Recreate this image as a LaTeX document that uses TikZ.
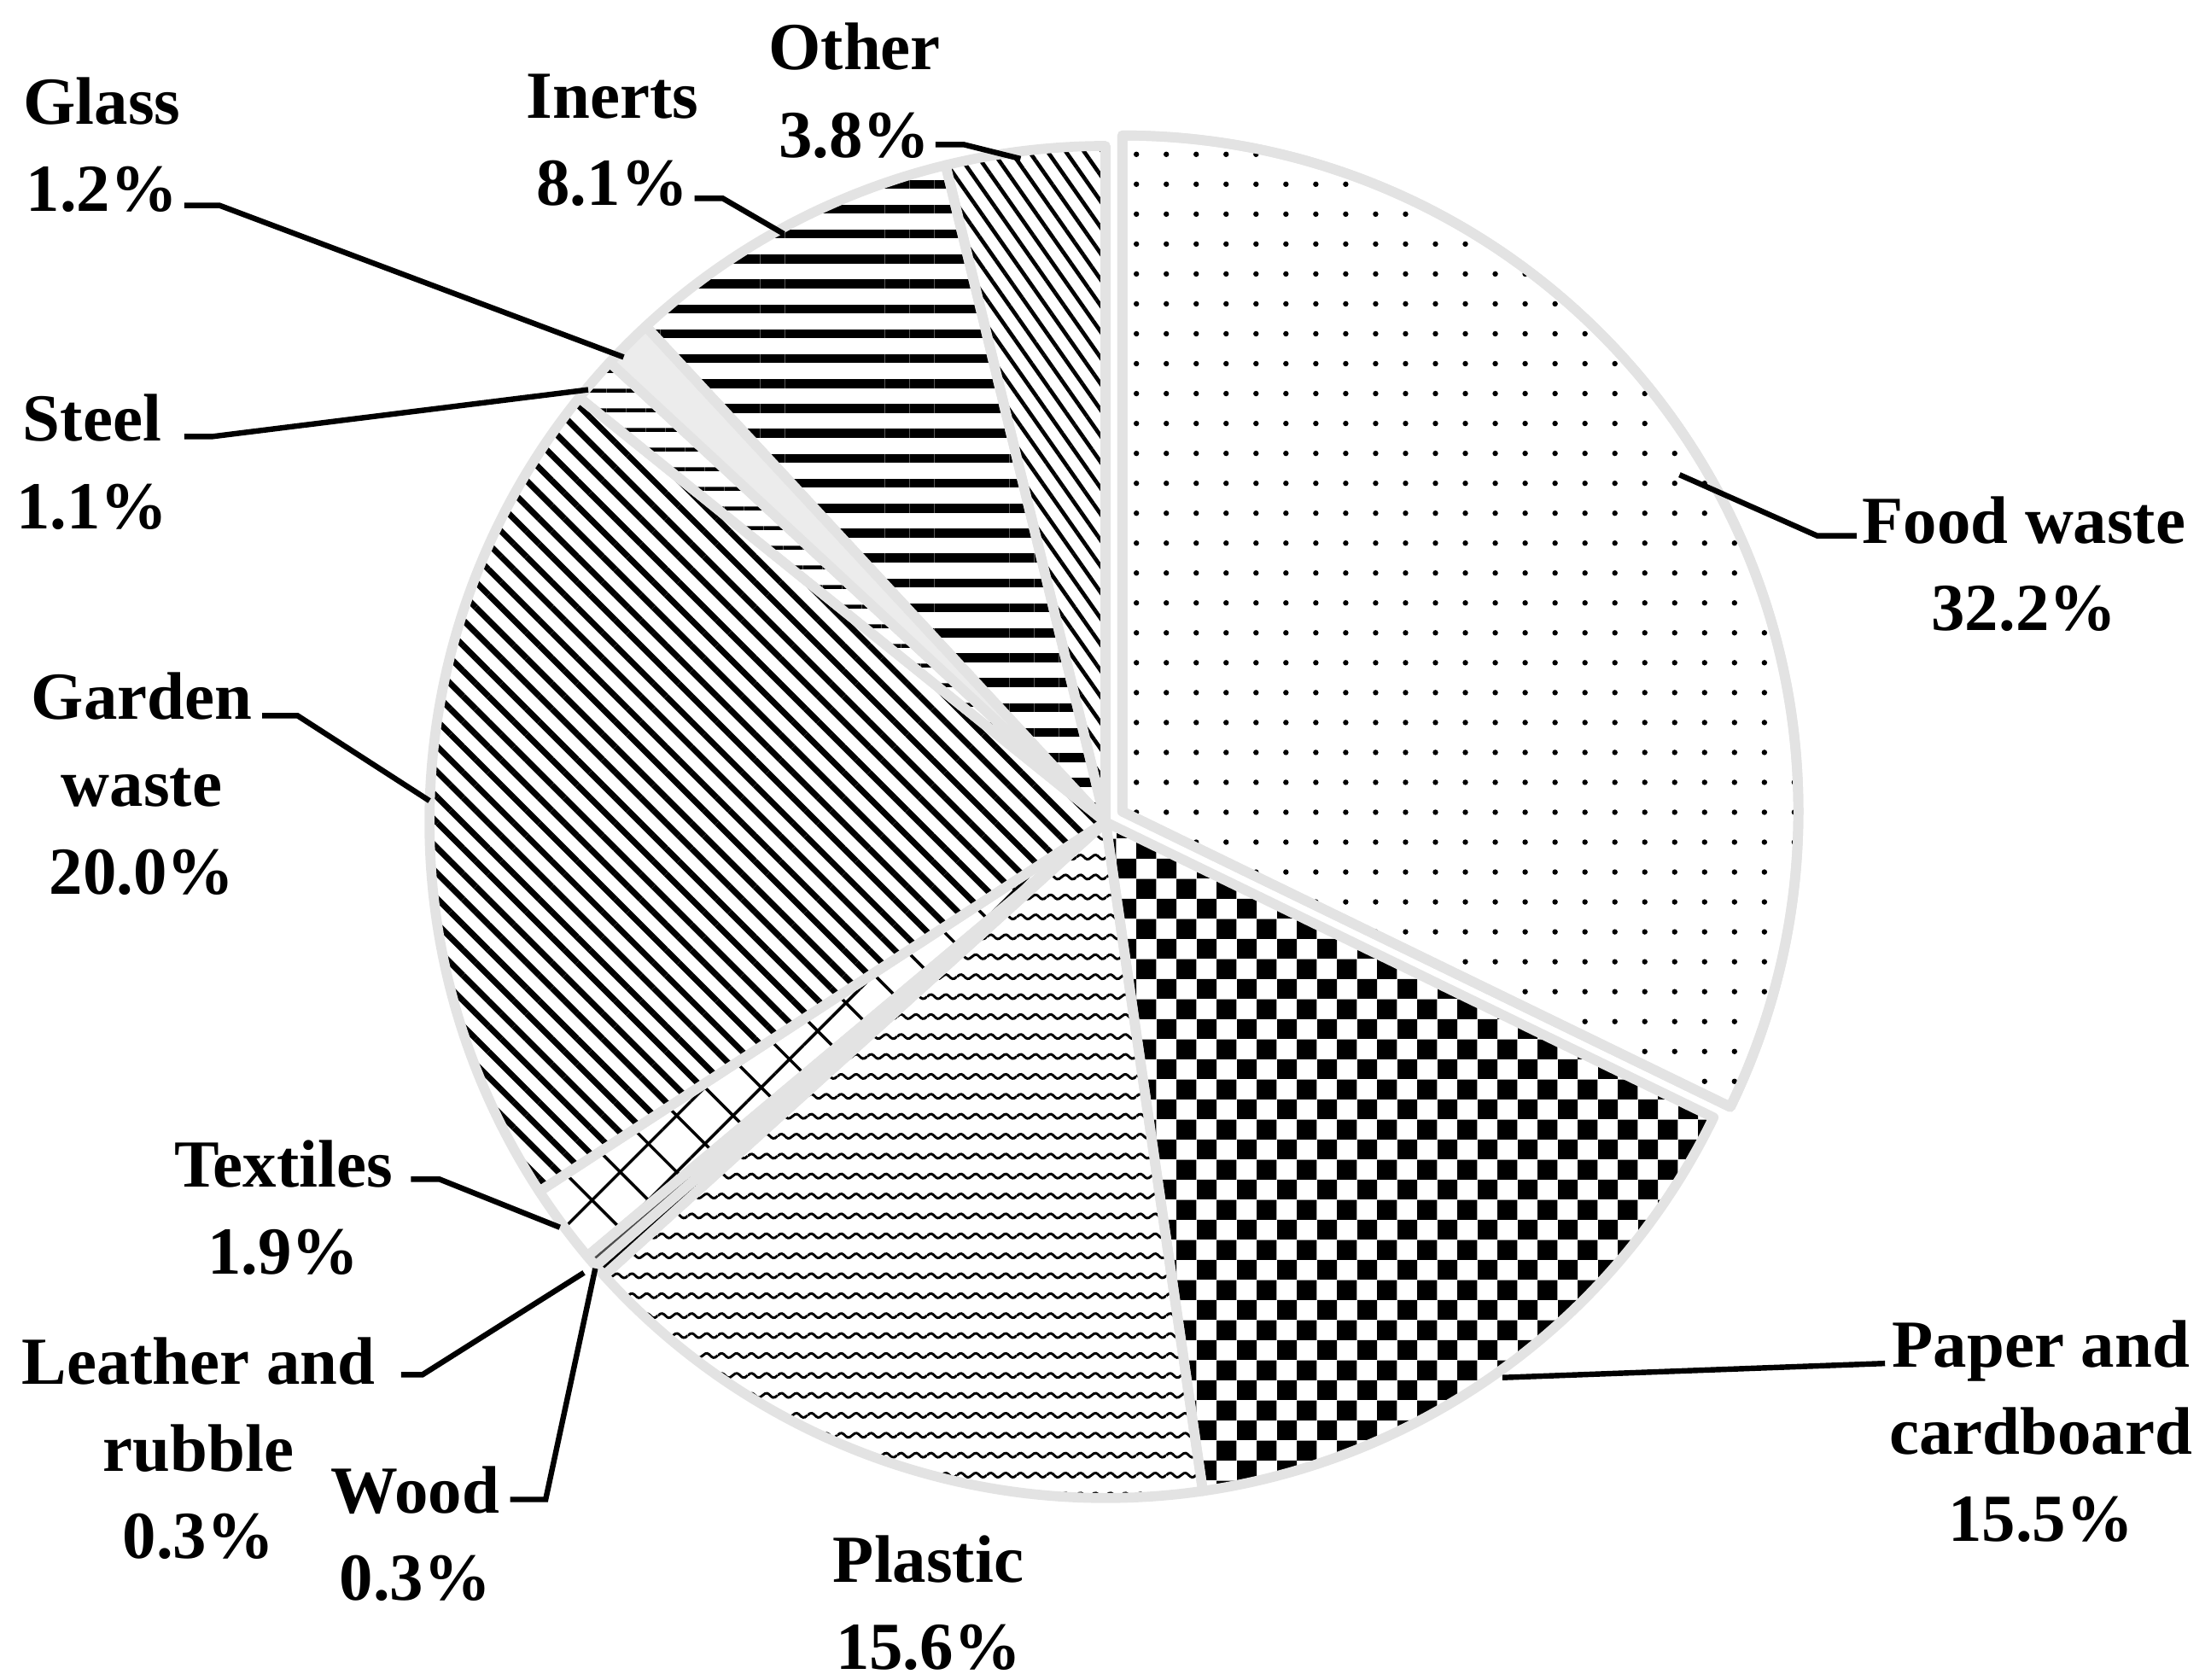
\documentclass[tikz,border=0pt]{standalone}
\usepackage{fontspec}
\setmainfont{Liberation Serif}
\usetikzlibrary{patterns,patterns.meta,calc}

% checkerboard and wave fills
\pgfdeclarepatternformonly{checker}{\pgfpointorigin}{\pgfpoint{8pt}{8pt}}{\pgfpoint{8pt}{8pt}}{%
  \pgfpathrectangle{\pgfpointorigin}{\pgfpoint{4pt}{4pt}}%
  \pgfpathrectangle{\pgfpoint{4pt}{4pt}}{\pgfpoint{4pt}{4pt}}%
  \pgfusepath{fill}}
\pgfdeclarepatternformonly{wave}{\pgfpoint{0pt}{-1pt}}{\pgfpoint{6pt}{4pt}}{\pgfpoint{6pt}{4pt}}{%
  \pgfsetlinewidth{0.5pt}%
  \pgfpathmoveto{\pgfpoint{0pt}{1pt}}%
  \pgfpathcurveto{\pgfpoint{1.5pt}{2.5pt}}{\pgfpoint{1.5pt}{-0.5pt}}{\pgfpoint{3pt}{1pt}}%
  \pgfpathcurveto{\pgfpoint{4.5pt}{2.5pt}}{\pgfpoint{4.5pt}{-0.5pt}}{\pgfpoint{6pt}{1pt}}%
  \pgfusepath{stroke}}

\newcommand{\pieslice}[3]{% start angle, end angle, fill
  \fill[#3] (0,0) -- (#1:477) arc[start angle=#1, end angle=#2, radius=477] -- cycle;
  \draw[rim] (0,0) -- (#1:477) arc[start angle=#1, end angle=#2, radius=477] -- cycle;}

\begin{document}
\begin{tikzpicture}[x=0.01cm, y=0.01cm,
    rim/.style={draw=gray!22, line width=2pt, line join=round},
    lbl/.style={align=center, font=\fontsize{13.5}{17.5}\selectfont\bfseries},
    lead/.style={line width=1.1pt}]
  \useasboundingbox (0,0) rectangle (1560,1185);

  % Pie
  \begin{scope}[shift={(780,605)}]
    \begin{scope}[shift={(32:14)}]
      \pieslice{90}{-25.92}{white}
      \pieslice{90}{-25.92}{pattern={Dots[distance=6pt,radius=0.55pt]}}
    \end{scope}
    \pieslice{-25.92}{-81.72}{pattern=checker}
    \pieslice{-81.72}{-137.88}{pattern=wave}
    \pieslice{-137.88}{-138.96}{black}
    \pieslice{-138.96}{-140.04}{black!70}
    \pieslice{-140.04}{-146.88}{pattern={Hatch[angle=45,distance=8pt,line width=0.6pt]}}
    \pieslice{-146.88}{-218.88}{pattern={Lines[angle=-45,distance=3.6pt,line width=1.2pt]}}
    \pieslice{141.12}{137.16}{pattern={Lines[angle=0,distance=4pt,line width=0.8pt]}}
    \pieslice{137.16}{132.84}{gray!15}
    \pieslice{132.84}{103.68}{pattern={Lines[angle=0,distance=5pt,line width=1.8pt]}}
    \pieslice{103.68}{90}{pattern={Lines[angle=-55,distance=3pt,line width=0.8pt]}}
  \end{scope}

  % Labels
  \node[lbl] (food)    at (1428,787) {Food waste\\32.2\%};
  \node[lbl] (paper)   at (1440,175) {Paper and\\cardboard\\15.5\%};
  \node[lbl] (plastic) at (655,54)   {Plastic\\15.6\%};
  \node[lbl] (wood)    at (293,103)  {Wood\\0.3\%};
  \node[lbl] (leather) at (140,163)  {Leather and\\rubble\\0.3\%};
  \node[lbl] (textile) at (200,333)  {Textiles\\1.9\%};
  \node[lbl] (garden)  at (100,632)  {Garden\\waste\\20.0\%};
  \node[lbl] (steel)   at (65,859)   {Steel\\1.1\%};
  \node[lbl] (glass)   at (72,1083)  {Glass\\1.2\%};
  \node[lbl] (inerts)  at (432,1086) {Inerts\\8.1\%};
  \node[lbl] (other)   at (603,1121) {Other\\3.8\%};

  % Leader lines
  \coordinate (pfood) at (1185,850);   \coordinate (kfood) at (1282,807);
  \coordinate (ppaper) at (1060,213);  \coordinate (kpaper) at (1330,223);
  \coordinate (pwood) at (420,290);    \coordinate (kwood) at (385,127);
  \coordinate (pleath) at (412,287);   \coordinate (kleath) at (298,215);
  \coordinate (ptext) at (395,319);    \coordinate (ktext) at (310,353);
  \coordinate (pgard) at (303,620);    \coordinate (kgard) at (210,680);
  \coordinate (pstee) at (415,910);    \coordinate (kstee) at (150,877);
  \coordinate (pglas) at (440,933);    \coordinate (kglas) at (155,1040);
  \coordinate (piner) at (553,1020);   \coordinate (kiner) at (510,1045);
  \coordinate (poth) at (720,1073);    \coordinate (koth) at (680,1083);

  \draw[lead] (pfood) -- (kfood) -- ++(28,0);
  \draw[lead] (ppaper) -- (kpaper);
  \draw[lead] (pwood) -- (kwood) -- ++(-25,0);
  \draw[lead] (pleath) -- (kleath) -- ++(-15,0);
  \draw[lead] (ptext) -- (ktext) -- ++(-20,0);
  \draw[lead] (pgard) -- (kgard) -- ++(-25,0);
  \draw[lead] (pstee) -- (kstee) -- ++(-20,0);
  \draw[lead] (pglas) -- (kglas) -- ++(-25,0);
  \draw[lead] (piner) -- (kiner) -- ++(-20,0);
  \draw[lead] (poth) -- (koth) -- ++(-20,0);
\end{tikzpicture}
\end{document}
